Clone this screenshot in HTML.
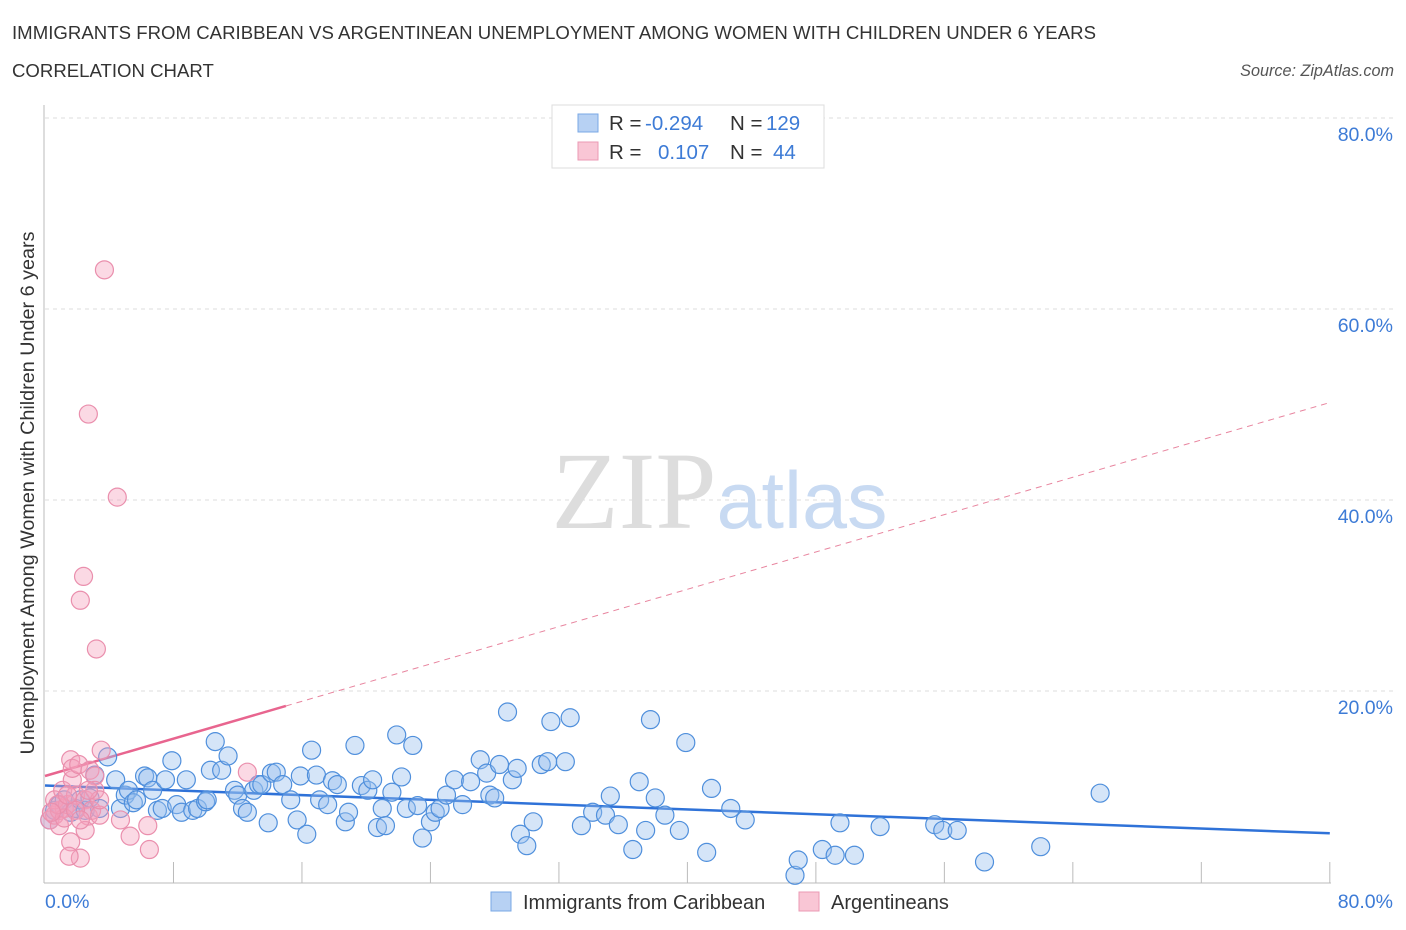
<!DOCTYPE html>
<html><head><meta charset="utf-8"><style>
body{margin:0;background:#fff;font-family:"Liberation Sans",sans-serif;}
svg{display:block}
</style></head><body>
<svg width="1406" height="930" xmlns="http://www.w3.org/2000/svg">
<text x="12" y="39" font-size="18.6" fill="#333" textLength="1084">IMMIGRANTS FROM CARIBBEAN VS ARGENTINEAN UNEMPLOYMENT AMONG WOMEN WITH CHILDREN UNDER 6 YEARS</text>
<text x="12" y="77" font-size="18.6" fill="#333">CORRELATION CHART</text>
<text x="1394" y="76" font-size="16.2" fill="#555" font-style="italic" text-anchor="end">Source: ZipAtlas.com</text>
<g id="grid"></g>
<g><text x="634" y="528" font-size="110" font-family="Liberation Serif,serif" fill="#ddd" text-anchor="middle">ZIP</text><text x="802" y="528" font-size="81" fill="#c8daf2" text-anchor="middle">atlas</text></g>
<line x1="44" y1="105" x2="44" y2="883" stroke="#bbb"/>
<line x1="44" y1="883" x2="1331" y2="883" stroke="#bbb"/>
<g id="ticks"></g>
<g id="lines"></g>
<g id="pts"></g>
<text transform="translate(34,493) rotate(-90)" font-size="19.8" fill="#333" text-anchor="middle">Unemployment Among Women with Children Under 6 years</text>
<text x="45" y="908" font-size="19.5" fill="#3d7bd6">0.0%</text>
<text x="1393" y="908" font-size="19.5" fill="#3d7bd6" text-anchor="end">80.0%</text>
<g>
<rect x="552" y="105" width="272" height="63" fill="#fff" stroke="#ddd"/>
<rect x="578" y="114" width="20" height="18" fill="#b7d1f3" stroke="#7aa8e6"/>
<rect x="578" y="142" width="20" height="18" fill="#f9c6d5" stroke="#eb9ab4"/>
<text x="609" y="130" font-size="20.5" fill="#333">R =</text><text x="645" y="130" font-size="20.5" fill="#3d7bd6">-0.294</text>
<text x="730" y="130" font-size="20.5" fill="#333">N =</text><text x="766" y="130" font-size="20.5" fill="#3d7bd6">129</text>
<text x="609" y="159" font-size="20.5" fill="#333">R =</text><text x="658" y="159" font-size="20.5" fill="#3d7bd6">0.107</text>
<text x="730" y="159" font-size="20.5" fill="#333">N =</text><text x="773" y="159" font-size="20.5" fill="#3d7bd6">44</text>
</g>
<g>
<rect x="491" y="892" width="20" height="19" fill="#b7d1f3" stroke="#7aa8e6"/>
<text x="523" y="909" font-size="20" fill="#333">Immigrants from Caribbean</text>
<rect x="799" y="892" width="20" height="19" fill="#f9c6d5" stroke="#eb9ab4"/>
<text x="831" y="909" font-size="20" fill="#333">Argentineans</text>
</g>
</svg>
<script>
const yTicks=[20,40,60,80];
const xTicks=[8,16,24,32,40,48,56,64,72,80];
const blueX=[0.3,0.6,0.9,1.2,1.6,1.9,2.2,2.5,2.8,3.1,3.4,3.9,4.4,4.7,5.0,5.2,5.5,5.7,6.2,6.4,6.7,7.0,7.3,7.5,7.9,8.2,8.5,8.8,9.2,9.5,10.0,10.1,10.6,10.3,11.0,11.4,11.8,12.0,12.3,12.6,13.0,13.3,13.5,13.9,14.1,14.4,14.8,15.3,15.7,15.9,16.3,16.6,16.9,17.1,17.6,17.9,18.2,18.7,18.9,19.3,19.7,20.1,20.4,20.7,21.0,21.2,21.6,21.9,22.2,22.5,22.9,23.2,23.5,24.0,24.3,24.6,25.0,25.5,26.0,26.5,27.1,27.5,27.7,28.0,28.3,28.8,29.1,29.4,29.6,30.0,30.4,30.9,31.3,31.5,32.4,32.7,33.4,34.1,34.9,35.2,35.7,36.6,37.0,37.4,37.7,38.0,38.6,39.5,39.9,41.2,41.5,42.7,43.6,46.7,46.9,48.4,49.2,49.5,50.4,52.0,55.4,55.9,56.8,58.5,62.0,65.7];
const blueY=[6.5,7.5,8.1,8.6,7.3,7.7,8.6,7.5,8.8,11.2,7.7,13.1,10.7,7.7,9.1,9.6,8.3,8.6,11.1,10.9,9.6,7.5,7.7,10.7,12.7,8.1,7.3,10.7,7.5,7.7,8.4,8.6,14.7,11.7,11.7,13.2,9.6,9.1,7.7,7.3,9.6,10.2,10.2,6.2,11.4,11.5,10.2,8.6,6.5,11.1,5.0,13.8,11.2,8.6,8.1,10.6,10.2,6.3,7.3,14.3,10.1,9.6,10.7,5.7,7.7,5.9,9.4,15.4,11.0,7.7,14.3,8.0,4.6,6.3,7.3,7.7,9.1,10.7,8.1,10.5,12.8,11.4,9.1,8.8,12.3,17.8,10.7,11.9,5.0,3.8,6.3,12.3,12.6,16.8,12.6,17.2,5.9,7.3,7.0,9.0,6.0,3.4,10.5,5.4,17.0,8.8,7.0,5.4,14.6,3.1,9.8,7.7,6.5,0.7,2.3,3.4,2.8,6.2,2.8,5.8,6.0,5.4,5.4,2.1,3.7,9.3];
const pinkX=[0.3,0.6,0.9,1.2,0.6,1.1,1.4,1.7,1.9,1.6,1.7,2.1,2.5,2.7,2.8,2.9,3.1,3.4,3.5,3.7,2.7,4.5,2.4,2.2,3.2,1.6,2.2,1.5,5.3,6.5,6.4,12.6,4.7,0.9,1.2,2.5,0.8,0.4,1.9,3.1,3.4,2.2,2.7,1.4];
const pinkY=[6.5,7.0,7.5,7.7,8.6,9.6,8.1,10.7,9.1,12.8,11.9,12.3,8.6,6.9,11.7,7.5,11.1,7.0,13.8,64.1,49.0,40.3,32.0,29.5,24.4,4.2,2.5,2.7,4.8,3.4,5.9,11.5,6.5,5.9,6.7,5.4,8.1,7.3,7.5,9.6,8.6,6.5,9.6,9.1];
const blueTrend=[10.1,5.1];
const pinkTrend=[11.1,50.2];
const pinkSolidEnd=15;
const X=v=>45+v*16.06, Y=v=>882-v*9.55;
const NS='http://www.w3.org/2000/svg';
function mk(t,a,p){const e=document.createElementNS(NS,t);for(const k in a)e.setAttribute(k,a[k]);p.appendChild(e);return e;}
const grid=document.getElementById('grid'),ticks=document.getElementById('ticks'),lines=document.getElementById('lines'),pts=document.getElementById('pts');
yTicks.forEach(v=>{
 const l=mk('line',{x1:45,x2:1393,y1:Y(v),y2:Y(v),stroke:'#ddd','stroke-dasharray':'4,4'},grid);
 
 
 const t=mk('text',{x:1393,y:Y(v)+23,'font-size':19.5,fill:'#3d7bd6','text-anchor':'end'},grid);
 t.textContent=v.toFixed(1)+'%';
 
 
});
xTicks.forEach(v=>{
 const l=mk('line',{x1:X(v),x2:X(v),y1:862,y2:883,stroke:'#bbb'},ticks);
 
 
});
blueX.forEach((x,i)=>{
 const c=mk('circle',{cx:X(x),cy:Y(blueY[i]),r:9,fill:'rgba(150,190,238,0.4)',stroke:'#4f8fdc','stroke-width':1.2},pts);
 
 
});
pinkX.forEach((x,i)=>{
 const c=mk('circle',{cx:X(x),cy:Y(pinkY[i]),r:9,fill:'rgba(245,160,188,0.4)',stroke:'#ea8fad','stroke-width':1.2},pts);
 
 
});
const bl=mk('line',{x1:X(0),y1:Y(blueTrend[0]),x2:X(80),y2:Y(blueTrend[1]),stroke:'#2f72d8','stroke-width':2.5},lines);


const ps=(pinkTrend[1]-pinkTrend[0])/80, pm=pinkTrend[0]+ps*pinkSolidEnd;
const pl=mk('line',{x1:X(0),y1:Y(pinkTrend[0]),x2:X(pinkSolidEnd),y2:Y(pm),stroke:'#e8658f','stroke-width':2.5},lines);


const pd=mk('line',{x1:X(pinkSolidEnd),y1:Y(pm),x2:X(80),y2:Y(pinkTrend[1]),stroke:'#e8859f','stroke-width':1,'stroke-dasharray':'6,5'},lines);


</script>
</body></html>
